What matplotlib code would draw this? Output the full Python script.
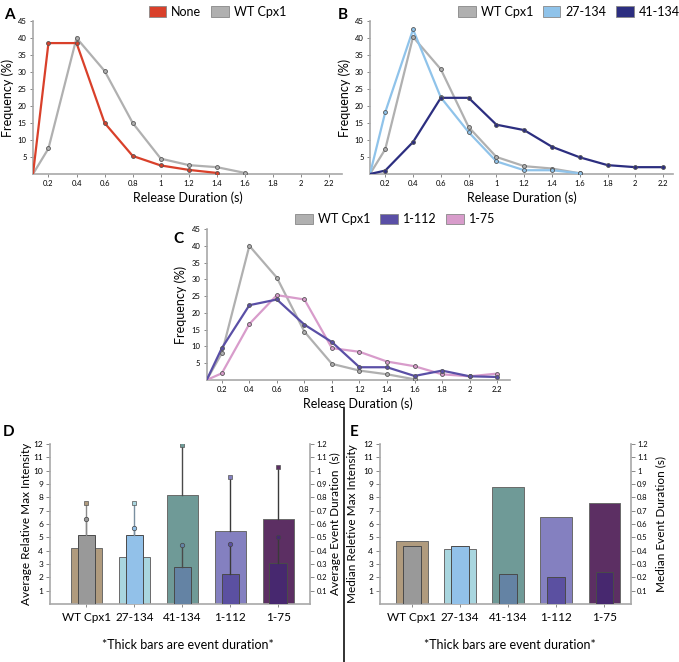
import numpy as np
import matplotlib.pyplot as plt
from matplotlib.patches import Patch

plt.rcParams['font.family'] = ['Lato', 'DejaVu Sans']

# release duration bins (s); first point sits on the y axis
duration = [0.09, 0.2, 0.4, 0.6, 0.8, 1.0, 1.2, 1.4, 1.6, 1.8, 2.0, 2.2]

# panel A
a_none = [0, 38.5, 38.5, 15.0, 5.3, 2.5, 1.2, 0.3]
a_wt = [0, 7.5, 40.0, 30.3, 15.0, 4.5, 2.6, 2.0, 0.3]

# panel B
b_wt = [0, 7.3, 40.3, 30.8, 13.8, 5.0, 2.3, 1.6, 0.2]
b_27 = [0, 18.2, 42.5, 22.5, 12.3, 3.7, 1.1, 1.1, 0.2]
b_41 = [0, 1.0, 9.4, 22.4, 22.4, 14.5, 12.9, 8.0, 4.9, 2.6, 2.0, 2.0]

# panel C
c_wt = [0, 8.0, 40.0, 30.5, 14.4, 4.8, 2.8, 1.7, 0.2]
c_112 = [0, 9.5, 22.3, 24.0, 16.5, 11.3, 3.8, 3.8, 1.2, 2.8, 1.1, 0.9]
c_75 = [0, 2.0, 16.7, 25.3, 24.0, 9.5, 8.4, 5.5, 4.1, 1.7, 1.1, 1.9]

# panels D / E
groups = ['WT Cpx1', '27-134', '41-134', '1-112', '1-75']
d_wide = [4.2, 3.55, 8.2, 5.45, 6.4]       # thick bars (event duration, x10)
d_wide_err = [7.6, 7.6, 11.9, 9.55, 10.25]
d_narrow = [5.2, 5.2, 2.8, 2.25, 3.1]      # intensity
d_narrow_err = [6.4, 5.7, 4.4, 4.5, 5.05]
e_wide = [4.7, 4.1, 8.8, 6.5, 7.6]
e_narrow = [4.35, 4.35, 2.25, 2.0, 2.4]

wide_colors = ['#b09b7e', '#a9d6df', '#6f9a97', '#8480c0', '#5c2f63']
narrow_colors = ['#999999', '#92c1e9', '#6483a4', '#5b50a1', '#47286f']
err_colors = ['#8a8a8a', '#7a8fa0', '#4a4a4a', '#3a3a3a', '#3a3a3a']

RED = '#d9402a'
GRAY = '#b0b0b0'
SPINE = '#a8a8a8'

fig = plt.figure(figsize=(6.79, 6.62), dpi=100)


def style_axes(ax, xmax):
    for s in ['top', 'right']:
        ax.spines[s].set_visible(False)
    for s in ['left', 'bottom']:
        ax.spines[s].set_color(SPINE)
        ax.spines[s].set_linewidth(1.2)
    ax.set_xlim(duration[0], xmax)
    ax.set_ylim(0, 45)
    ax.set_xticks(duration[1:])
    ax.set_xticklabels(['0.2', '0.4', '0.6', '0.8', '1', '1.2', '1.4', '1.6', '1.8', '2', '2.2'])
    ax.set_yticks(range(5, 50, 5))
    ax.tick_params(labelsize=5.5, length=2.5, width=0.7, color='#888888', pad=2)
    ax.set_xlabel('Release Duration (s)', fontsize=9, labelpad=3)
    ax.set_ylabel('Frequency (%)', fontsize=9, labelpad=3)


def line(ax, y, color):
    x = duration[:len(y)]
    ax.plot(x, y, color=color, lw=1.6, solid_joinstyle='miter', zorder=3)
    ax.plot(x[1:], y[1:], ls='none', marker='o', ms=2.8, mfc=color,
            mec='#555555', mew=0.6, zorder=4)


def legend(ax, names, colors, x, y):
    handles = [Patch(facecolor=c, edgecolor='#888888', lw=0.6) for c in colors]
    ax.legend(handles, names, loc='center', bbox_to_anchor=(x, y),
              bbox_transform=fig.transFigure, ncol=len(names), frameon=False,
              fontsize=9, handlelength=1.4, handleheight=0.9,
              handletextpad=0.4, columnspacing=0.8, borderpad=0)


# A
axA = fig.add_axes([0.0486, 0.7372, 0.455, 0.2311])
style_axes(axA, 2.29)
line(axA, a_wt, GRAY)
line(axA, a_none, RED)
legend(axA, ['None', 'WT Cpx1'], [RED, GRAY], 0.32, 0.982)

# B
axB = fig.add_axes([0.5449, 0.7372, 0.446, 0.2311])
style_axes(axB, 2.27)
line(axB, b_wt, GRAY)
line(axB, b_27, '#8fc3ea')
line(axB, b_41, '#2c2e80')
legend(axB, ['WT Cpx1', '27-134', '41-134'], [GRAY, '#8fc3ea', '#2c2e80'], 0.838, 0.982)

# C
axC = fig.add_axes([0.3044, 0.426, 0.446, 0.228])
style_axes(axC, 2.29)
line(axC, c_wt, GRAY)
line(axC, c_75, '#d89ccb')
line(axC, c_112, '#5a4fa6')
legend(axC, ['WT Cpx1', '1-112', '1-75'], [GRAY, '#5a4fa6', '#d89ccb'], 0.582, 0.669)


def bar_panel(rect, wide, narrow, xlim, ylab_l, ylab_r, lab_x, wide_err=None, narrow_err=None):
    ax = fig.add_axes(rect)
    x = np.arange(len(groups))
    ax.bar(x, wide, width=0.66, color=wide_colors, edgecolor='#6a6a6a', lw=0.7, zorder=2)
    ax.bar(x, narrow, width=0.37, color=narrow_colors, edgecolor='#4a4a4a', lw=0.7, zorder=3)
    if wide_err is not None:
        for i in x:
            ax.plot([i, i], [wide[i], wide_err[i]], color=err_colors[i], lw=1.0, zorder=2.5)
            ax.plot([i, i], [narrow[i], narrow_err[i]], color=err_colors[i], lw=1.0, zorder=3.5)
            ax.plot(i, wide_err[i], marker='s', ms=3.2, mfc=wide_colors[i], mec='#555555', mew=0.5, zorder=5)
            ax.plot(i, narrow_err[i], marker='o', ms=3.2, mfc=narrow_colors[i], mec='#444444', mew=0.5, zorder=5)
    ax.set_xlim(*xlim)
    ax.set_ylim(0, 12)
    ax.set_xticks(x)
    ax.set_xticklabels(groups, fontsize=8.5)
    ax.set_yticks(range(1, 13))
    ax.tick_params(axis='y', labelsize=6, length=3, width=0.7, color='#888888', pad=2)
    ax.tick_params(axis='x', length=2.5, width=0.7, color='#888888', pad=3)
    ax.set_ylabel(ylab_l, fontsize=8.5)
    ax.yaxis.set_label_coords(lab_x[0], 0.5)
    for s in ['top', 'right']:
        ax.spines[s].set_visible(False)
    for s in ['left', 'bottom']:
        ax.spines[s].set_color(SPINE)
        ax.spines[s].set_linewidth(1.2)
    ax2 = ax.twinx()
    ax2.set_ylim(0, 1.2)
    ax2.set_yticks(np.round(np.arange(0.1, 1.25, 0.1), 1))
    ax2.set_yticklabels(['0.1', '0.2', '0.3', '0.4', '0.5', '0.6', '0.7', '0.8', '0.9', '1', '1.1', '1.2'])
    ax2.tick_params(labelsize=5.5, length=3, width=0.7, color='#888888', pad=1.5)
    ax2.set_ylabel(ylab_r, fontsize=8.5)
    ax2.yaxis.set_label_coords(lab_x[1], 0.5)
    for s in ['top', 'left', 'bottom']:
        ax2.spines[s].set_visible(False)
    ax2.spines['right'].set_color(SPINE)
    ax2.spines['right'].set_linewidth(1.2)
    return ax


bar_panel([0.0736, 0.0876, 0.383, 0.2417], d_wide, d_narrow, (-0.76, 4.66),
          'Average Relative Max Intensity', 'Average Event Duration  (s)', (-0.069, 1.077),
          d_wide_err, d_narrow_err)
bar_panel([0.5596, 0.0876, 0.3697, 0.2417], e_wide, e_narrow, (-0.66, 4.55),
          'Median Reletive Max Intensity', 'Median Event Duration (s)', (-0.087, 1.096))

fig.text(0.277, 0.026, '*Thick bars are event duration*', ha='center', va='center', fontsize=9)
fig.text(0.751, 0.026, '*Thick bars are event duration*', ha='center', va='center', fontsize=9)

# divider between D and E
fig.add_artist(plt.Line2D([0.507, 0.507], [0.0, 0.384], color='#222222', lw=1.3))

for letter, x, y in [('A', 0.006, 0.988), ('B', 0.497, 0.988), ('C', 0.255, 0.649),
                     ('D', 0.004, 0.358), ('E', 0.515, 0.358)]:
    fig.text(x, y, letter, fontsize=11, fontweight='bold', ha='left', va='top')

fig.savefig('out.png', dpi=100)
